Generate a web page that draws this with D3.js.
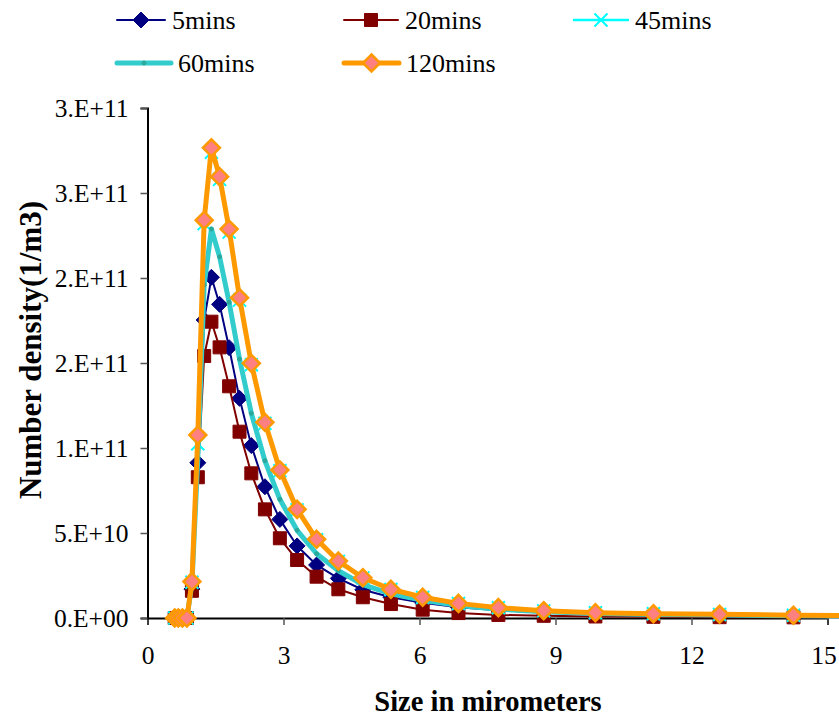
<!DOCTYPE html>
<html>
<head>
<meta charset="utf-8">
<script src="https://cdn.jsdelivr.net/npm/d3@7"></script>
<style>
  body { margin: 0; background: #fff; }
  svg { display: block; }
</style>
</head>
<body>
<svg width="839" height="716"></svg>
<script>
// particle size bins (micrometers)
var sizes = [0.60, 0.68, 0.77, 0.87, 0.98, 1.11, 1.25, 1.41, 1.59, 1.80, 2.03, 2.29, 2.59, 2.92,
    3.30, 3.73, 4.21, 4.75, 5.37, 6.07, 6.86, 7.74, 8.74, 9.88, 11.16, 12.62, 14.25, 16.10];

// number density, in units of 1e11 per m3
var mins5 = [0, 0, 0, 0, 0.17, 0.913, 1.753, 2.004, 1.845, 1.590, 1.292, 1.014, 0.772, 0.580,
    0.424, 0.312, 0.233, 0.166, 0.122, 0.089, 0.063, 0.045, 0.032, 0.024, 0.018, 0.014, 0.011, 0.009];
var mins20 = [0, 0, 0, 0, 0.16, 0.828, 1.541, 1.743, 1.592, 1.363, 1.096, 0.851, 0.639, 0.469,
    0.341, 0.243, 0.169, 0.122, 0.082, 0.049, 0.029, 0.018, 0.013, 0.009, 0.007, 0.005, 0.004, 0.003];
var mins45 = [0, 0, 0, 0, 0.21, 1.025, 2.32, 2.74, 2.58, 2.27, 1.87, 1.49, 1.145, 0.866,
    0.636, 0.460, 0.333, 0.236, 0.168, 0.121, 0.085, 0.060, 0.042, 0.031, 0.025, 0.021, 0.016, 0.013];
var mins60 = [0, 0, 0, 0, 0.20, 0.939, 1.959, 2.288, 2.125, 1.857, 1.523, 1.204, 0.925, 0.698,
    0.516, 0.378, 0.278, 0.197, 0.142, 0.104, 0.073, 0.052, 0.037, 0.027, 0.021, 0.018, 0.013, 0.010];
var mins120 = [0, 0, 0, 0, 0.214, 1.076, 2.34, 2.766, 2.596, 2.288, 1.884, 1.498, 1.151, 0.871,
    0.639, 0.463, 0.335, 0.237, 0.169, 0.122, 0.086, 0.061, 0.043, 0.031, 0.025, 0.022, 0.016, 0.013];

var seriesNames = ["5mins", "20mins", "45mins", "60mins", "120mins"];

var xTicks = [0, 3, 6, 9, 12, 15];
var yTicks = [0, 5e10, 1e11, 1.5e11, 2e11, 2.5e11, 3e11];
var yTickLabels = ["0.E+00", "5.E+10", "1.E+11", "2.E+11", "2.E+11", "3.E+11", "3.E+11"];

var serif = "'Liberation Serif', 'DejaVu Serif', serif";

var svg = d3.select("svg");
var width = +svg.attr("width");
var height = +svg.attr("height");

var x = d3.scaleLinear().domain([0, 15]).range([147.5, 827.5]);
var y = d3.scaleLinear().domain([0, 3e11]).range([618, 108]);

// look of each series, same order as seriesNames
var styles = [
    {color: "#000080", width: 2, marker: "diamond", size: 8, fill: "#000080", stroke: "#000080"},
    {color: "#800000", width: 2, marker: "square", size: 6.5, fill: "#800000", stroke: "#800000"},
    {color: "#00ffff", width: 2.5, marker: "cross", size: 6.5, fill: "none", stroke: "#00ffff"},
    {color: "#33cccc", width: 5, marker: "dot", size: 2, fill: "#2aa89a", stroke: "#2aa89a"},
    {color: "#ff9900", width: 5, marker: "diamond", size: 8.5, fill: "#ff8080", stroke: "#ff9900"}
];
var allValues = [mins5, mins20, mins45, mins60, mins120];

var series = seriesNames.map(function (name, i) {
    return {
        name: name,
        style: styles[i],
        points: sizes.map(function (s, j) { return {x: s, y: allValues[i][j] * 1e11}; })
    };
});

function markerPath(type, r) {
    if (type == "diamond") return "M0," + (-r) + "L" + r + ",0L0," + r + "L" + (-r) + ",0Z";
    if (type == "square") return "M" + (-r) + "," + (-r) + "H" + r + "V" + r + "H" + (-r) + "Z";
    if (type == "cross") return "M" + (-r) + "," + (-r) + "L" + r + "," + r + "M" + r + "," + (-r) + "L" + (-r) + "," + r;
    return "M" + (-r) + ",0A" + r + "," + r + " 0 1,0 " + r + ",0A" + r + "," + r + " 0 1,0 " + (-r) + ",0Z";
}

function markerStroke(s) {
    if (s.marker == "cross") return 2;
    return s.fill != s.stroke ? 2.5 : 1;
}

svg.append("defs").append("clipPath")
    .attr("id", "plotclip")
    .append("rect")
    .attr("x", 147.5)
    .attr("y", 100)
    .attr("width", width - 147.5)
    .attr("height", 530);

// axes
var xAxis = svg.append("g")
    .attr("transform", "translate(0,618)")
    .call(d3.axisBottom(x).tickValues(xTicks).tickSize(7).tickPadding(22));
var yAxis = svg.append("g")
    .attr("transform", "translate(147.5,0)")
    .call(d3.axisLeft(y).tickValues(yTicks).tickSize(7).tickPadding(12)
        .tickFormat(function (d, i) { return yTickLabels[i]; }));

[xAxis, yAxis].forEach(function (a) {
    a.select(".domain").attr("stroke", "#000").attr("stroke-width", 2);
    a.selectAll(".tick line").attr("stroke", "#555").attr("stroke-width", 1.5);
    a.selectAll(".tick text")
        .attr("fill", "#000")
        .style("font-family", serif)
        .style("font-size", "25.5px");
});
xAxis.selectAll(".tick text").attr("dy", "0.68em");
// last label sits at the page edge, nudge it in
xAxis.selectAll(".tick text").filter(function (d) { return d == 15; }).attr("dx", -4);

var line = d3.line()
    .x(function (d) { return x(d.x); })
    .y(function (d) { return y(d.y); });

var plot = svg.append("g").attr("clip-path", "url(#plotclip)");

series.forEach(function (s) {
    var g = plot.append("g");
    g.append("path")
        .datum(s.points)
        .attr("d", line)
        .attr("fill", "none")
        .attr("stroke", s.style.color)
        .attr("stroke-width", s.style.width)
        .attr("stroke-linejoin", "round");
    g.selectAll(".m")
        .data(s.points)
        .enter().append("path")
        .attr("transform", function (d) { return "translate(" + x(d.x) + "," + y(d.y) + ")"; })
        .attr("d", markerPath(s.style.marker, s.style.size))
        .attr("fill", s.style.fill)
        .attr("stroke", s.style.stroke)
        .attr("stroke-width", markerStroke(s.style));
});

// axis titles
svg.append("text")
    .attr("x", 488)
    .attr("y", 711)
    .attr("text-anchor", "middle")
    .style("font-family", serif)
    .style("font-weight", "bold")
    .style("font-size", "28.5px")
    .text("Size in mirometers");

svg.append("text")
    .attr("transform", "translate(41,350) rotate(-90)")
    .attr("text-anchor", "middle")
    .style("font-family", serif)
    .style("font-weight", "bold")
    .style("font-size", "31px")
    .text("Number density(1/m3)");

// legend
var legendPos = [
    {x: 117, y: 20, len: 48},
    {x: 344, y: 20, len: 54},
    {x: 574, y: 20, len: 54},
    {x: 117, y: 63, len: 54},
    {x: 344, y: 63, len: 55}
];

var legend = svg.append("g").selectAll("g")
    .data(series)
    .enter().append("g")
    .attr("transform", function (d, i) { return "translate(" + legendPos[i].x + "," + legendPos[i].y + ")"; });

legend.append("line")
    .attr("x1", 0)
    .attr("x2", function (d, i) { return legendPos[i].len; })
    .attr("stroke", function (d) { return d.style.color; })
    .attr("stroke-width", function (d) { return d.style.width; })
    .attr("stroke-linecap", "round");

legend.append("path")
    .attr("transform", function (d, i) { return "translate(" + legendPos[i].len / 2 + ",0)"; })
    .attr("d", function (d) { return markerPath(d.style.marker, d.style.size); })
    .attr("fill", function (d) { return d.style.fill; })
    .attr("stroke", function (d) { return d.style.stroke; })
    .attr("stroke-width", function (d) { return markerStroke(d.style); });

legend.append("text")
    .attr("x", function (d, i) { return legendPos[i].len + 7; })
    .attr("dy", "0.33em")
    .style("font-family", serif)
    .style("font-size", "26px")
    .text(function (d) { return d.name; });
</script>
</body>
</html>
